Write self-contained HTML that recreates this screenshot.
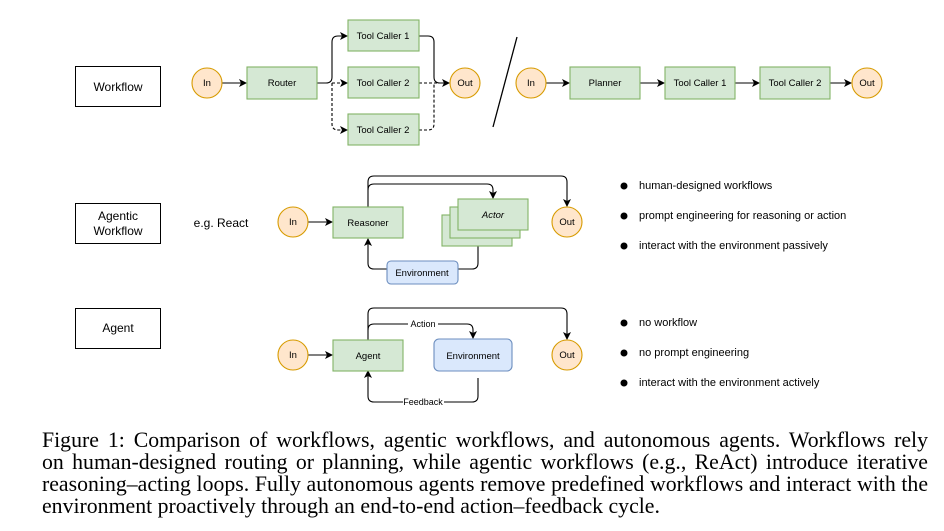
<!DOCTYPE html>
<html><head><meta charset="utf-8"><style>
body{margin:0;width:944px;height:531px;background:#fff;overflow:hidden;position:relative}
svg{position:absolute;left:0;top:0}
.cap{position:absolute;left:42px;width:886px;font-family:"Liberation Serif",serif;font-size:21.8px;color:#000;white-space:nowrap;text-align:justify;text-align-last:justify;line-height:22px}
</style></head><body>
<svg width="944" height="420" viewBox="0 0 944 420" font-family="Liberation Sans, sans-serif">
<defs><marker id="a" markerWidth="8" markerHeight="8" refX="7" refY="4" orient="auto" markerUnits="userSpaceOnUse"><path d="M0,0 L8,4 L0,8 L2,4 z" fill="#000"/></marker></defs>
<g fill="none" stroke="#000" stroke-width="1">
<rect x="75.5" y="66.5" width="85" height="40"/>
<rect x="75.5" y="203.5" width="85" height="40"/>
<rect x="75.5" y="308.5" width="85" height="40"/>
</g>
<g font-size="12" text-anchor="middle">
<text x="118" y="91">Workflow</text>
<text x="118" y="220">Agentic</text><text x="118" y="235">Workflow</text>
<text x="118" y="332">Agent</text>
<text x="221" y="227">e.g. React</text>
</g>
<g fill="none" stroke="#000" stroke-width="1.1">
<path d="M222 83 H246" marker-end="url(#a)"/>
<path d="M317 83 H326 Q332 83 332 77 V42 Q332 36 338 36 H347" marker-end="url(#a)"/>
<path d="M419 36 H428 Q434 36 434 42 V77 Q434 83 440 83 H449" marker-end="url(#a)"/>
<path d="M332 83 H347" stroke-dasharray="3,2" marker-end="url(#a)"/>
<path d="M332 83 V124 Q332 130 338 130 H347" stroke-dasharray="3,2" marker-end="url(#a)"/>
<path d="M419 83 H449" stroke-dasharray="3,2"/>
<path d="M419 130 H428 Q434 130 434 124 V83" stroke-dasharray="3,2"/>
<path d="M517 37 L493 127" stroke-width="1.3"/>
<path d="M546 83 H569" marker-end="url(#a)"/>
<path d="M640 83 H664" marker-end="url(#a)"/>
<path d="M735 83 H759" marker-end="url(#a)"/>
<path d="M830 83 H851" marker-end="url(#a)"/>
<path d="M308 222 H332" marker-end="url(#a)"/>
<path d="M368 207 V182 Q368 176 374 176 H561 Q567 176 567 182 V206" marker-end="url(#a)"/>
<path d="M368 190 Q368 184 374 184 H487 Q493 184 493 190 V198" marker-end="url(#a)"/>
<path d="M478 246 V263 Q478 269 472 269 H458"/>
<path d="M387 269 H374 Q368 269 368 263 V239" marker-end="url(#a)"/>
<path d="M308 355 H332" marker-end="url(#a)"/>
<path d="M368 340 V314 Q368 308 374 308 H561 Q567 308 567 314 V339" marker-end="url(#a)"/>
<path d="M368 330 Q368 324 374 324 H467 Q473 324 473 330 V338" marker-end="url(#a)"/>
<path d="M478 378 V396 Q478 402 472 402 H374 Q368 402 368 396 V371" marker-end="url(#a)"/>
</g>
<rect x="408" y="319" width="30" height="10" fill="#fff"/>
<rect x="403" y="397" width="41" height="10" fill="#fff"/>
<g font-size="9" text-anchor="middle"><text x="423" y="327">Action</text><text x="423" y="405">Feedback</text></g>
<g fill="#ffe6cc" stroke="#d79b00" stroke-width="1.1">
<circle cx="207" cy="83" r="15"/><circle cx="465" cy="83" r="15"/>
<circle cx="531" cy="83" r="15"/><circle cx="867" cy="83" r="15"/>
<circle cx="293" cy="222" r="15"/><circle cx="567" cy="222" r="15"/>
<circle cx="293" cy="355" r="15"/><circle cx="567" cy="355" r="15"/>
</g>
<g fill="#d5e8d4" stroke="#82b366" stroke-width="1.1">
<rect x="247" y="67" width="70" height="32"/>
<rect x="348" y="20" width="71" height="31"/>
<rect x="348" y="67" width="71" height="31"/>
<rect x="348" y="114" width="71" height="31"/>
<rect x="570" y="67" width="70" height="32"/>
<rect x="665" y="67" width="70" height="32"/>
<rect x="760" y="67" width="70" height="32"/>
<rect x="333" y="207" width="70" height="31"/>
<rect x="442" y="215" width="70" height="31"/>
<rect x="450" y="207" width="70" height="31"/>
<rect x="458" y="199" width="70" height="31"/>
<rect x="333" y="340" width="70" height="31"/>
</g>
<g fill="#dae8fc" stroke="#6c8ebf" stroke-width="1.1">
<rect x="387" y="261" width="71" height="23" rx="4"/>
<rect x="434" y="339" width="78" height="32" rx="5"/>
</g>
<g font-size="9.5" text-anchor="middle" fill="#000">
<text x="207" y="86">In</text><text x="465" y="86">Out</text>
<text x="531" y="86">In</text><text x="867" y="86">Out</text>
<text x="293" y="225">In</text><text x="567" y="225">Out</text>
<text x="293" y="358">In</text><text x="567" y="358">Out</text>
<text x="282" y="86">Router</text>
<text x="383" y="39">Tool Caller 1</text>
<text x="383" y="86">Tool Caller 2</text>
<text x="383" y="133">Tool Caller 2</text>
<text x="605" y="86">Planner</text>
<text x="700" y="86">Tool Caller 1</text>
<text x="795" y="86">Tool Caller 2</text>
<text x="368" y="226">Reasoner</text>
<text x="493" y="218" font-style="italic">Actor</text>
<text x="422" y="276">Environment</text>
<text x="368" y="359">Agent</text>
<text x="473" y="359">Environment</text>
</g>
<g fill="#000"><circle cx="624" cy="186" r="3.5"/><circle cx="624" cy="216" r="3.5"/><circle cx="624" cy="246" r="3.5"/>
<circle cx="624" cy="323" r="3.5"/><circle cx="624" cy="353" r="3.5"/><circle cx="624" cy="383" r="3.5"/></g>
<g font-size="11">
<text x="639" y="189">human-designed workflows</text>
<text x="639" y="219">prompt engineering for reasoning or action</text>
<text x="639" y="249">interact with the environment passively</text>
<text x="639" y="326">no workflow</text>
<text x="639" y="356">no prompt engineering</text>
<text x="639" y="386">interact with the environment actively</text>
</g>
</svg>
<div class="cap" style="top:429px">Figure 1: Comparison of workflows, agentic workflows, and autonomous agents. Workflows rely</div>
<div class="cap" style="top:451px">on human-designed routing or planning, while agentic workflows (e.g., ReAct) introduce iterative</div>
<div class="cap" style="top:473px">reasoning–acting loops. Fully autonomous agents remove predefined workflows and interact with the</div>
<div class="cap" style="top:495px;text-align-last:left">environment proactively through an end-to-end action–feedback cycle.</div>
</body></html>
